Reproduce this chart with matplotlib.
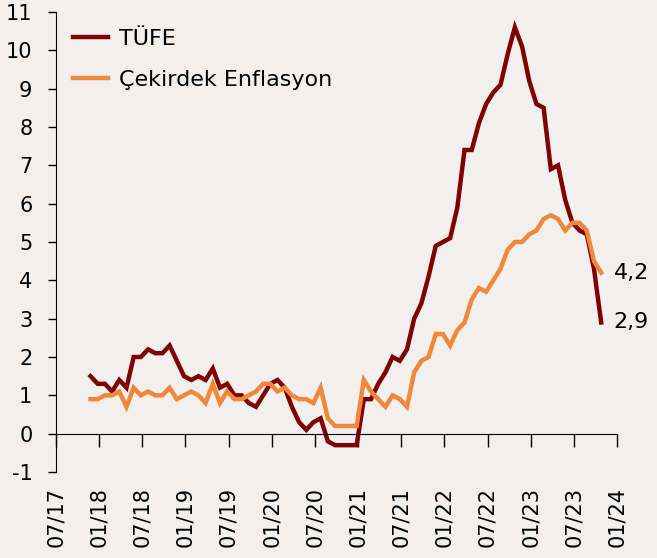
import matplotlib
matplotlib.use("Agg")
import numpy as np
import matplotlib.pyplot as plt

# annual % change, monthly, 11/2017 - 10/2023
tufe = [1.5, 1.3, 1.3, 1.1, 1.4, 1.2, 2.0, 2.0, 2.2, 2.1, 2.1, 2.3,
        1.9, 1.5, 1.4, 1.5, 1.4, 1.7, 1.2, 1.3, 1.0, 1.0, 0.8, 0.7,
        1.0, 1.3, 1.4, 1.2, 0.7, 0.3, 0.1, 0.3, 0.4, -0.2, -0.3, -0.3,
        -0.3, -0.3, 0.9, 0.9, 1.3, 1.6, 2.0, 1.9, 2.2, 3.0, 3.4, 4.1,
        4.9, 5.0, 5.1, 5.9, 7.4, 7.4, 8.1, 8.6, 8.9, 9.1, 9.9, 10.6,
        10.1, 9.2, 8.6, 8.5, 6.9, 7.0, 6.1, 5.5, 5.3, 5.2, 4.3, 2.9]
cekirdek = [0.9, 0.9, 1.0, 1.0, 1.1, 0.7, 1.2, 1.0, 1.1, 1.0, 1.0, 1.2,
            0.9, 1.0, 1.1, 1.0, 0.8, 1.3, 0.8, 1.1, 0.9, 0.9, 1.0, 1.1,
            1.3, 1.3, 1.1, 1.2, 1.0, 0.9, 0.9, 0.8, 1.2, 0.4, 0.2, 0.2,
            0.2, 0.2, 1.4, 1.1, 0.9, 0.7, 1.0, 0.9, 0.7, 1.6, 1.9, 2.0,
            2.6, 2.6, 2.3, 2.7, 2.9, 3.5, 3.8, 3.7, 4.0, 4.3, 4.8, 5.0,
            5.0, 5.2, 5.3, 5.6, 5.7, 5.6, 5.3, 5.5, 5.5, 5.3, 4.5, 4.2]
tick_labels = ["07/17", "01/18", "07/18", "01/19", "07/19", "01/20", "07/20",
               "01/21", "07/21", "01/22", "07/22", "01/23", "07/23", "01/24"]

bg = "#f2f0ee"
c_tufe = "#800000"
c_core = "#f0883a"

x = np.arange(len(tufe))
# first tick (07/17) sits 4.8 months before the first observation (11/17)
tick_pos = np.arange(len(tick_labels)) * 6 - 4.8

fig = plt.figure(figsize=(6.57, 5.58), dpi=100, facecolor=bg)
ax = fig.add_axes([56 / 657, 1 - 472 / 558, 561 / 657, 460 / 558], facecolor=bg)

ax.plot(x, tufe, color=c_tufe, lw=3.2, label="TÜFE", solid_joinstyle="miter")
ax.plot(x, cekirdek, color=c_core, lw=3.2, label="Çekirdek Enflasyon", solid_joinstyle="miter")

ax.set_xlim(tick_pos[0], tick_pos[-1])
ax.set_ylim(-1, 11)
ax.set_yticks(np.arange(-1, 12))
ax.set_yticklabels([str(v) for v in range(-1, 12)])
ax.tick_params(axis="y", direction="out", length=6, width=1, pad=11, labelsize=15)

for s in ["top", "right"]:
    ax.spines[s].set_visible(False)
ax.spines["bottom"].set_position(("data", 0))
ax.set_xticks(tick_pos)
ax.tick_params(axis="x", direction="out", length=9, width=1, labelbottom=False)

sec = ax.secondary_xaxis("bottom")
sec.set_xticks(tick_pos, tick_labels, rotation=90)
sec.tick_params(length=0, pad=11, labelsize=15)
sec.spines["bottom"].set_visible(False)

ax.legend(loc="upper left", frameon=False, fontsize=16, handlelength=1.6,
          handletextpad=0.5, labelspacing=0.95, borderaxespad=0.35)

for series, col in [(cekirdek, c_core), (tufe, c_tufe)]:
    ax.annotate(f"{series[-1]:.1f}".replace(".", ","), xy=(x[-1], series[-1]),
                xytext=(9, 0), textcoords="offset points", va="center",
                fontsize=16, color="black")

fig.savefig("out.png", dpi=100, facecolor=bg)
